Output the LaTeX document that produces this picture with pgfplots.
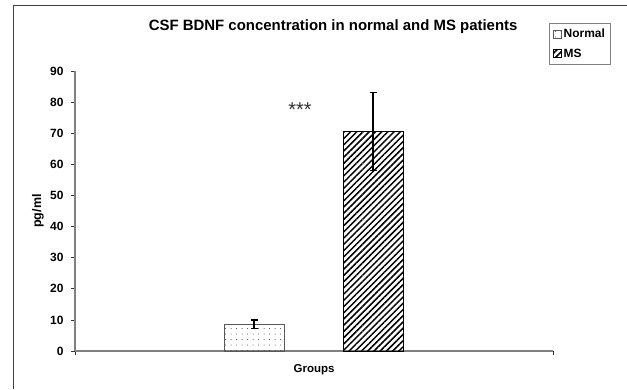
\documentclass[border=0pt]{standalone}
\usepackage{fontspec}
\setmainfont{Liberation Sans}
\usepackage{pgfplots}
\pgfplotsset{compat=1.18}
\usetikzlibrary{patterns.meta}
\definecolor{axgray}{RGB}{128,128,128}
\begin{document}
\begin{tikzpicture}[x=1bp,y=1bp]
\useasboundingbox (0,0) rectangle (627,-389);
\fill[white] (0,0) rectangle (627,-389);
\draw[black!75, line width=0.8bp] (13,-389) -- (13,-5) -- (627,-5);
\begin{axis}[
  at={(75bp,-351bp)}, anchor=south west,
  scale only axis, width=478bp, height=280bp,
  xmin=75, xmax=553, ymin=0, ymax=90,
  axis x line*=bottom, axis y line*=left,
  axis line style={draw=axgray, -, line width=1.2bp},
  ytick={0,10,...,90}, xtick={75,553}, xticklabels={},
  tick align=outside, major tick length=4bp,
  tick style={black!80, line width=0.8bp},
  /pgf/number format/assume math mode=true,
  yticklabel style={font=\bfseries\fontsize{12}{14}\selectfont, xshift=-4bp},
  ylabel={pg/ml},
  ylabel style={at={(axis description cs:-0.0774,0.5)}, anchor=center, font=\bfseries\fontsize{12.5}{14}\selectfont},
  xlabel={Groups},
  xlabel style={at={(axis description cs:0.5,-0.068)}, anchor=center, font=\bfseries\fontsize{11.5}{14}\selectfont},
  title={CSF BDNF concentration in normal and MS patients},
  title style={at={(axis description cs:0.54,1.136)}, anchor=center, font=\bfseries\fontsize{15}{18}\selectfont},
  legend style={at={(0.9916,1.171)}, anchor=north west, draw=axgray, font=\bfseries\fontsize{12}{14}\selectfont, inner sep=3.5bp, row sep=6bp, legend cell align=left},
  legend image code/.code={\draw[#1] (0bp,-4bp) rectangle (8bp,4bp);},
  clip=false,
]
\addplot[ybar, bar width=60, bar shift=0pt, draw=black!65, line width=0.8bp,
  pattern={Dots[distance=5.5bp, radius=0.5bp]}, pattern color=black!75,
  error bars/.cd, y dir=both, y explicit,
  error bar style={black, line width=1.2bp},
  error mark options={black, mark size=3.5bp, line width=1.3bp, rotate=90}]
  coordinates {(254,8.6) +- (0,1.4)};
\addlegendentry{Normal}
\addplot[ybar, bar width=60, bar shift=0pt, draw=black, line width=1bp,
  pattern={Lines[angle=45, distance=4.4bp, line width=1.5bp]}, pattern color=black,
  error bars/.cd, y dir=both, y explicit,
  error bar style={black, line width=1.2bp},
  error mark options={black, mark size=3.5bp, line width=1.3bp, rotate=90}]
  coordinates {(373,70.5) +- (0,12.5)};
\addlegendentry{MS}
\node[font=\fontsize{20}{22}\selectfont, text=black!80] at (axis cs:300,77.5) {***};
\end{axis}
\end{tikzpicture}
\end{document}
